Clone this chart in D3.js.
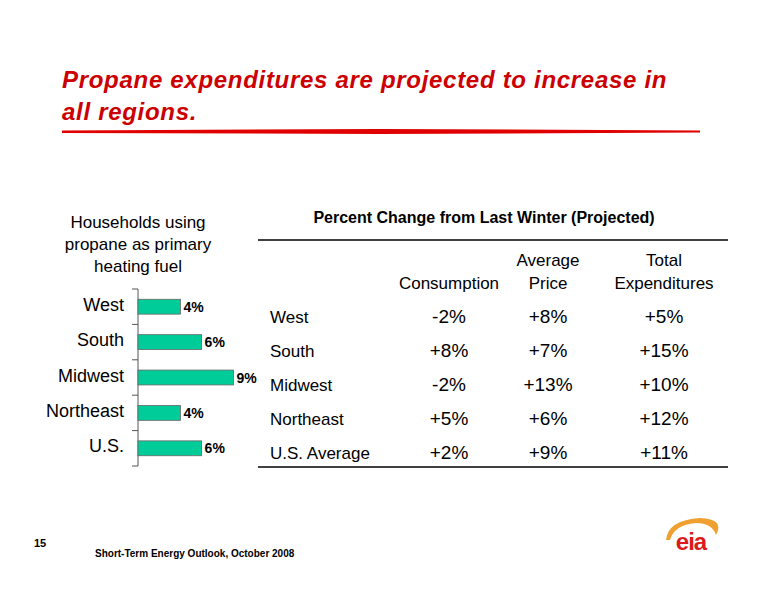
<!DOCTYPE html>
<html><head><meta charset="utf-8">
<script src="https://cdn.jsdelivr.net/npm/d3@7"></script>
<style>body{margin:0;background:#fff}text{font-family:Arial,"Liberation Sans",sans-serif}</style>
</head><body><div id="chart"></div>
<script>
const regions = ["West","South","Midwest","Northeast","U.S."]
const shares = [4,6,9,4,6]
const rowNames = ["West","South","Midwest","Northeast","U.S. Average"]
const consumption = ["-2%","+8%","-2%","+5%","+2%"]
const price = ["+8%","+7%","+13%","+6%","+9%"]
const expenditures = ["+5%","+15%","+10%","+12%","+11%"]

const svg = d3.select("#chart").append("svg").attr("width",776).attr("height",600)

// title
svg.append("text").attr("x",62).attr("y",88).attr("fill","#cc0000")
  .attr("font-size",24).attr("font-weight","bold").attr("font-style","italic").attr("letter-spacing",0.7)
  .text("Propane expenditures are projected to increase in")
svg.append("text").attr("x",62).attr("y",120).attr("fill","#cc0000")
  .attr("font-size",24).attr("font-weight","bold").attr("font-style","italic").attr("letter-spacing",0.7)
  .text("all regions.")
svg.append("path").attr("d","M62,130.5 L380,129 L700,130.5 L700,132.5 L380,134 L62,133 Z").attr("fill","#e00000")

// bar chart
const ht = svg.append("text").attr("font-size",17).attr("text-anchor","middle").attr("fill","#000")
;["Households using","propane as primary","heating fuel"].forEach((t,i)=>
  ht.append("tspan").attr("x",138).attr("y",228+i*22).text(t))

const x = d3.scaleLinear().domain([0,10]).range([138,244])
const y = d3.scaleBand().domain(regions).range([289,466]).paddingInner(0.58).paddingOuter(0.29)
const yAxis = d3.scaleBand().domain(regions).range([289,466])
const g = svg.append("g")
g.append("line").attr("x1",138).attr("x2",138).attr("y1",289).attr("y2",466).attr("stroke","#555")
g.selectAll(".tk").data(d3.range(6)).join("line")
  .attr("x1",132).attr("x2",138)
  .attr("y1",i=>289+i*yAxis.step()).attr("y2",i=>289+i*yAxis.step()).attr("stroke","#555")
g.selectAll("rect").data(regions).join("rect")
  .attr("x",x(0)).attr("y",d=>y(d)).attr("height",y.bandwidth())
  .attr("width",(d,i)=>x(shares[i])-x(0)).attr("fill","#00cc99").attr("stroke","#666").attr("stroke-width",0.8)
g.selectAll(".lab").data(regions).join("text")
  .attr("x",(d,i)=>x(shares[i])+3).attr("y",d=>y(d)+y.bandwidth()/2+5)
  .attr("font-size",14).attr("font-weight","bold").text((d,i)=>shares[i]+"%")
g.selectAll(".cat").data(regions).join("text")
  .attr("x",124).attr("y",d=>y(d)+y.bandwidth()/2+4).attr("text-anchor","end")
  .attr("font-size",18).text(d=>d)

// table
svg.append("text").attr("x",484).attr("y",223).attr("text-anchor","middle")
  .attr("font-size",16).attr("font-weight","bold").text("Percent Change from Last Winter (Projected)")
svg.append("line").attr("x1",258).attr("x2",728).attr("y1",240).attr("y2",240).attr("stroke","#000").attr("stroke-width",1.3)
svg.append("line").attr("x1",258).attr("x2",728).attr("y1",467).attr("y2",467).attr("stroke","#000").attr("stroke-width",1.3)
const cols = [449,548,664]
const hdr = [["","Consumption"],["Average","Price"],["Total","Expenditures"]]
hdr.forEach((h,c)=>h.forEach((t,r)=>svg.append("text").attr("x",cols[c]).attr("y",266+r*23)
  .attr("text-anchor","middle").attr("font-size",17).text(t)))
const rowY = d3.scalePoint().domain(rowNames).range([323,459])
svg.selectAll(".rn").data(rowNames).join("text").attr("x",270).attr("y",d=>rowY(d))
  .attr("font-size",17).text(d=>d)
;[consumption,price,expenditures].forEach((arr,c)=>
  svg.selectAll(".v"+c).data(arr).join("text").attr("x",cols[c]).attr("y",(d,i)=>rowY(rowNames[i]))
    .attr("text-anchor","middle").attr("font-size",19).text(d=>d))

// footer
svg.append("text").attr("x",34).attr("y",547).attr("font-size",11).attr("font-weight","bold").text("15")
svg.append("text").attr("x",95).attr("y",557).attr("font-size",10).attr("font-weight","bold").text("Short-Term Energy Outlook, October 2008")
svg.append("path").attr("d","M666,540 Q668,520 700,518 Q725,519 716,535 Q712,523 696,523 Q674,525 670,540 Z").attr("fill","#f0a030")
svg.append("text").attr("x",691).attr("y",550).attr("text-anchor","middle").attr("font-size",24)
  .attr("font-weight","bold").attr("fill","#dd1a1a").attr("letter-spacing",-1).text("eia")
</script></body></html>
